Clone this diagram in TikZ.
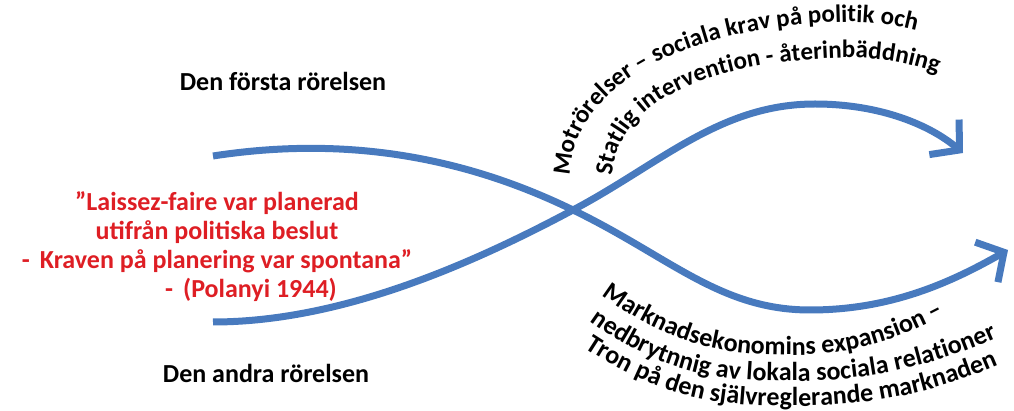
\documentclass[tikz,border=0pt]{standalone}
\usepackage{fontspec}
\setmainfont{Carlito}
\usetikzlibrary{arrows.meta,decorations.text}
\definecolor{curveblue}{RGB}{72,122,190}
\definecolor{quotered}{RGB}{222,30,36}
\newcommand\archfont{\bfseries\fontsize{13}{15}\selectfont}
\newcommand\toparchfont{\bfseries\fontsize{12.5}{15}\selectfont}

\begin{document}
\begin{tikzpicture}[x=0.5pt,y=-0.5pt,
  rorelse/.style={draw=curveblue,line width=3.5pt,-{Straight Barb[length=10pt,width=23pt]}},
  rubrik/.style={font=\archfont},
  arch/.style={decorate,decoration={text along path,text align=left,text={#1}}}]
  \useasboundingbox (0,0) rectangle (1014,411);

  \coordinate (A0) at (213,156);
  \coordinate (B0) at (213,322);
  \coordinate (X) at (573,210);
  \coordinate (A1) at (1008,250);
  \coordinate (B1) at (963,153);

  \node[rubrik] (first) at (283,81) {Den första rörelsen};
  \node[rubrik] (second) at (266,373) {Den andra rörelsen};
  \node[rubrik,text=quotered,align=center,font=\bfseries\fontsize{13}{14.5}\selectfont] (quote) at (217,247)
    {”Laissez-faire var planerad\\utifrån politiska beslut\\-\hspace{5pt}Kraven på planering var spontana”\\\hspace*{34pt}-\hspace{5pt}(Polanyi 1944)};

  \draw[rorelse] (A0) .. controls (330,138) and (450,150) .. (X)
    .. controls (670,257) and (720,310) .. (810,310)
    .. controls (890,310) and (950,283) .. (A1);
  \draw[rorelse] (B0) .. controls (340,322) and (470,265) .. (X)
    .. controls (660,164) and (720,104) .. (815,104)
    .. controls (880,104) and (930,125) .. (B1);

  \path[arch={|\toparchfont|Motrörelser – sociala krav på politik och}]
    (570,176) .. controls (574,78) and (700,24) .. (850,22) .. controls (885,22) and (910,28) .. (970,46);
  \path[arch={|\toparchfont|Statlig intervention - återinbäddning}]
    (612,176) .. controls (617,102) and (708,62) .. (840,58) .. controls (885,57) and (915,64) .. (975,86);
  \path[arch={|\archfont|Marknadsekonomins expansion –}]
    (602,295) .. controls (680,353) and (740,355) .. (795,355) .. controls (870,355) and (920,330) .. (985,292);
  \path[arch={|\archfont|nedbrytnnig av lokala sociala relationer}]
    (590,321) .. controls (670,379) and (730,381) .. (795,381) .. controls (880,381) and (950,362) .. (1030,322);
  \path[arch={|\archfont|Tron på den självreglerande marknaden}]
    (585,348) .. controls (670,404) and (730,406) .. (795,406) .. controls (880,406) and (950,390) .. (1030,350);
\end{tikzpicture}
\end{document}
